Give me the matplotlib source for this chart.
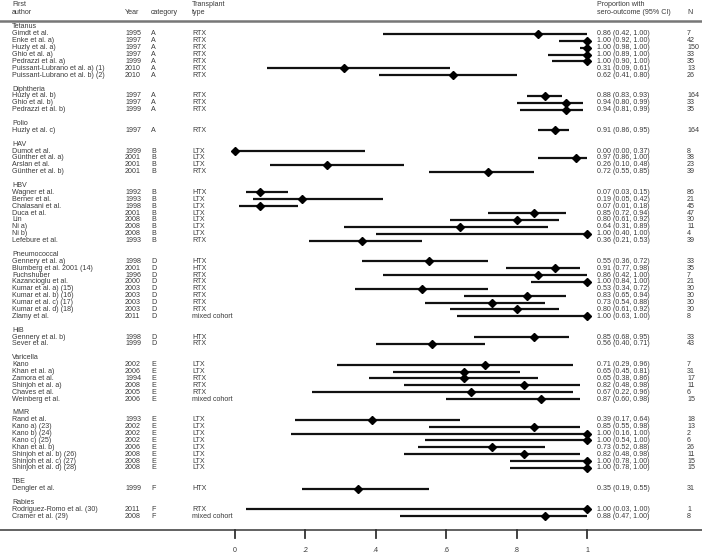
import matplotlib
matplotlib.use("Agg")
import matplotlib.pyplot as plt

# vaccine groups and how many studies each holds
group_names = ["Tetanus", "Diphtheria", "Polio", "HAV", "HBV", "Pneumococcal",
               "HiB", "Varicella", "MMR", "TBE", "Rabies"]
group_counts = [7, 3, 1, 4, 8, 9, 2, 6, 8, 1, 2]

authors = [
    "Gimdt et al.", "Enke et al. a)", "Huzly et al. a)", "Ghio et al. a)", "Pedrazzi et al. a)",
    "Puissant-Lubrano et al. a) (1)", "Puissant-Lubrano et al. b) (2)",
    "Huzly et al. b)", "Ghio et al. b)", "Pedrazzi et al. b)",
    "Huzly et al. c)",
    "Dumot et al.", "Günther et al. a)", "Arslan et al.", "Günther et al. b)",
    "Wagner et al.", "Berner et al.", "Chalasani et al.", "Duca et al.", "Lin", "Ni a)", "Ni b)",
    "Lefebure et al.",
    "Gennery et al. a)", "Blumberg et al. 2001 (14)", "Fuchshuber", "Kazancioglu et al.",
    "Kumar et al. a) (15)", "Kumar et al. b) (16)", "Kumar et al. c) (17)", "Kumar et al. d) (18)",
    "Zlamy et al.",
    "Gennery et al. b)", "Sever et al.",
    "Kano", "Khan et al. a)", "Zamora et al.", "Shinjoh et al. a)", "Chaves et al.", "Weinberg et al.",
    "Rand et al.", "Kano a) (23)", "Kano b) (24)", "Kano c) (25)", "Khan et al. b)",
    "Shinjoh et al. b) (26)", "Shinjoh et al. c) (27)", "Shinjoh et al. d) (28)",
    "Dengler et al.",
    "Rodriguez-Romo et al. (30)", "Cramer et al. (29)",
]
years = [1995, 1997, 1997, 1997, 1999, 2010, 2010,
         1997, 1997, 1999,
         1997,
         1999, 2001, 2001, 2001,
         1992, 1993, 1998, 2001, 2008, 2008, 2008, 1993,
         1998, 2001, 1996, 2000, 2003, 2003, 2003, 2003, 2011,
         1998, 1999,
         2002, 2006, 1994, 2008, 2005, 2006,
         1993, 2002, 2002, 2002, 2006, 2008, 2008, 2008,
         1999,
         2011, 2008]
categories = ["A"] * 11 + ["B"] * 12 + ["D"] * 11 + ["E"] * 14 + ["F"] * 3
transplant = ["RTX"] * 11 + ["LTX", "LTX", "LTX", "RTX"] + \
    ["HTX", "LTX", "LTX", "LTX", "LTX", "LTX", "LTX", "RTX"] + \
    ["HTX", "HTX", "RTX", "RTX", "RTX", "RTX", "RTX", "RTX", "mixed cohort"] + \
    ["HTX", "RTX"] + \
    ["LTX", "LTX", "RTX", "RTX", "RTX", "mixed cohort"] + \
    ["LTX"] * 8 + ["HTX"] + ["RTX", "mixed cohort"]
prop = [0.86, 1.00, 1.00, 1.00, 1.00, 0.31, 0.62,
        0.88, 0.94, 0.94,
        0.91,
        0.00, 0.97, 0.26, 0.72,
        0.07, 0.19, 0.07, 0.85, 0.80, 0.64, 1.00, 0.36,
        0.55, 0.91, 0.86, 1.00, 0.53, 0.83, 0.73, 0.80, 1.00,
        0.85, 0.56,
        0.71, 0.65, 0.65, 0.82, 0.67, 0.87,
        0.39, 0.85, 1.00, 1.00, 0.73, 0.82, 1.00, 1.00,
        0.35,
        1.00, 0.88]
ci_low = [0.42, 0.92, 0.98, 0.89, 0.90, 0.09, 0.41,
          0.83, 0.80, 0.81,
          0.86,
          0.00, 0.86, 0.10, 0.55,
          0.03, 0.05, 0.01, 0.72, 0.61, 0.31, 0.40, 0.21,
          0.36, 0.77, 0.42, 0.84, 0.34, 0.65, 0.54, 0.61, 0.63,
          0.68, 0.40,
          0.29, 0.45, 0.38, 0.48, 0.22, 0.60,
          0.17, 0.55, 0.16, 0.54, 0.52, 0.48, 0.78, 0.78,
          0.19,
          0.03, 0.47]
ci_high = [1.00, 1.00, 1.00, 1.00, 1.00, 0.61, 0.80,
           0.93, 0.99, 0.99,
           0.95,
           0.37, 1.00, 0.48, 0.85,
           0.15, 0.42, 0.18, 0.94, 0.92, 0.89, 1.00, 0.53,
           0.72, 0.98, 1.00, 1.00, 0.72, 0.94, 0.88, 0.92, 1.00,
           0.95, 0.71,
           0.96, 0.81, 0.86, 0.98, 0.96, 0.98,
           0.64, 0.98, 1.00, 1.00, 0.88, 0.98, 1.00, 1.00,
           0.55,
           1.00, 1.00]
n_subjects = [7, 42, 150, 33, 35, 13, 26,
              164, 33, 35,
              164,
              8, 38, 23, 39,
              86, 21, 45, 47, 30, 11, 4, 39,
              33, 35, 7, 21, 30, 30, 30, 30, 8,
              33, 43,
              7, 31, 17, 11, 6, 15,
              18, 13, 2, 6, 26, 11, 15, 15,
              31,
              1, 8]
ticks = [0, 0.2, 0.4, 0.6, 0.8, 1.0]
tick_labels = ["0", ".2", ".4", ".6", ".8", "1"]

W, H = 702, 555
X0, XSCALE = 235, 352  # pixel of 0 and pixels per unit
ROW0, ROWH = 27, 6.89


def px(x):
    return (x - X0) / XSCALE


fig = plt.figure(figsize=(W / 100, H / 100), dpi=100)
ax = fig.add_axes([0, 0, 1, 1])
ax.set_xlim(px(0), px(W))
ax.set_ylim(H, 0)
ax.axis("off")

tc = "#3a3a3a"
fs = 5.1
font = "Liberation Sans"

def txt(x, y, s, ha="left"):
    ax.text(x, y, s, fontsize=fs, color=tc, ha=ha, va="center", family=font)

# header
txt(px(12), 5, "First")
txt(px(12), 13, "author")
txt(px(125), 13, "Year")
txt(px(151), 13, "category")
txt(px(192), 5, "Transplant")
txt(px(192), 13, "type")
txt(px(597), 5, "Proportion with")
txt(px(597), 13, "sero-outcome (95% CI)")
txt(px(687), 13, "N")
ax.axhline(20.5, color="#777777", lw=1.8)

line = 0
k = 0
for g, cnt in zip(group_names, group_counts):
    y = ROW0 + line * ROWH
    txt(px(12), y, g)
    line += 1
    for _ in range(cnt):
        y = ROW0 + line * ROWH
        txt(px(12), y, authors[k])
        txt(px(125), y, str(years[k]))
        txt(px(151), y, categories[k])
        txt(px(192), y, transplant[k])
        txt(px(597), y, f"{prop[k]:.2f} ({ci_low[k]:.2f}, {ci_high[k]:.2f})")
        txt(px(687), y, str(n_subjects[k]))
        ax.plot([ci_low[k], ci_high[k]], [y, y], color="#111111", lw=1.6,
                solid_capstyle="butt", zorder=2)
        ax.plot(prop[k], y, marker="D", color="black", markersize=4.2, zorder=3)
        line += 1
        k += 1
    line += 1

# bottom axis
ax.axhline(530, color="#555555", lw=1.3)
for t, lab in zip(ticks, tick_labels):
    ax.plot([t, t], [530, 538], color="#333333", lw=1.3)
    ax.text(t, 550, lab, fontsize=fs, color=tc, ha="center", va="center", family=font)

fig.savefig("out.png", dpi=100)
